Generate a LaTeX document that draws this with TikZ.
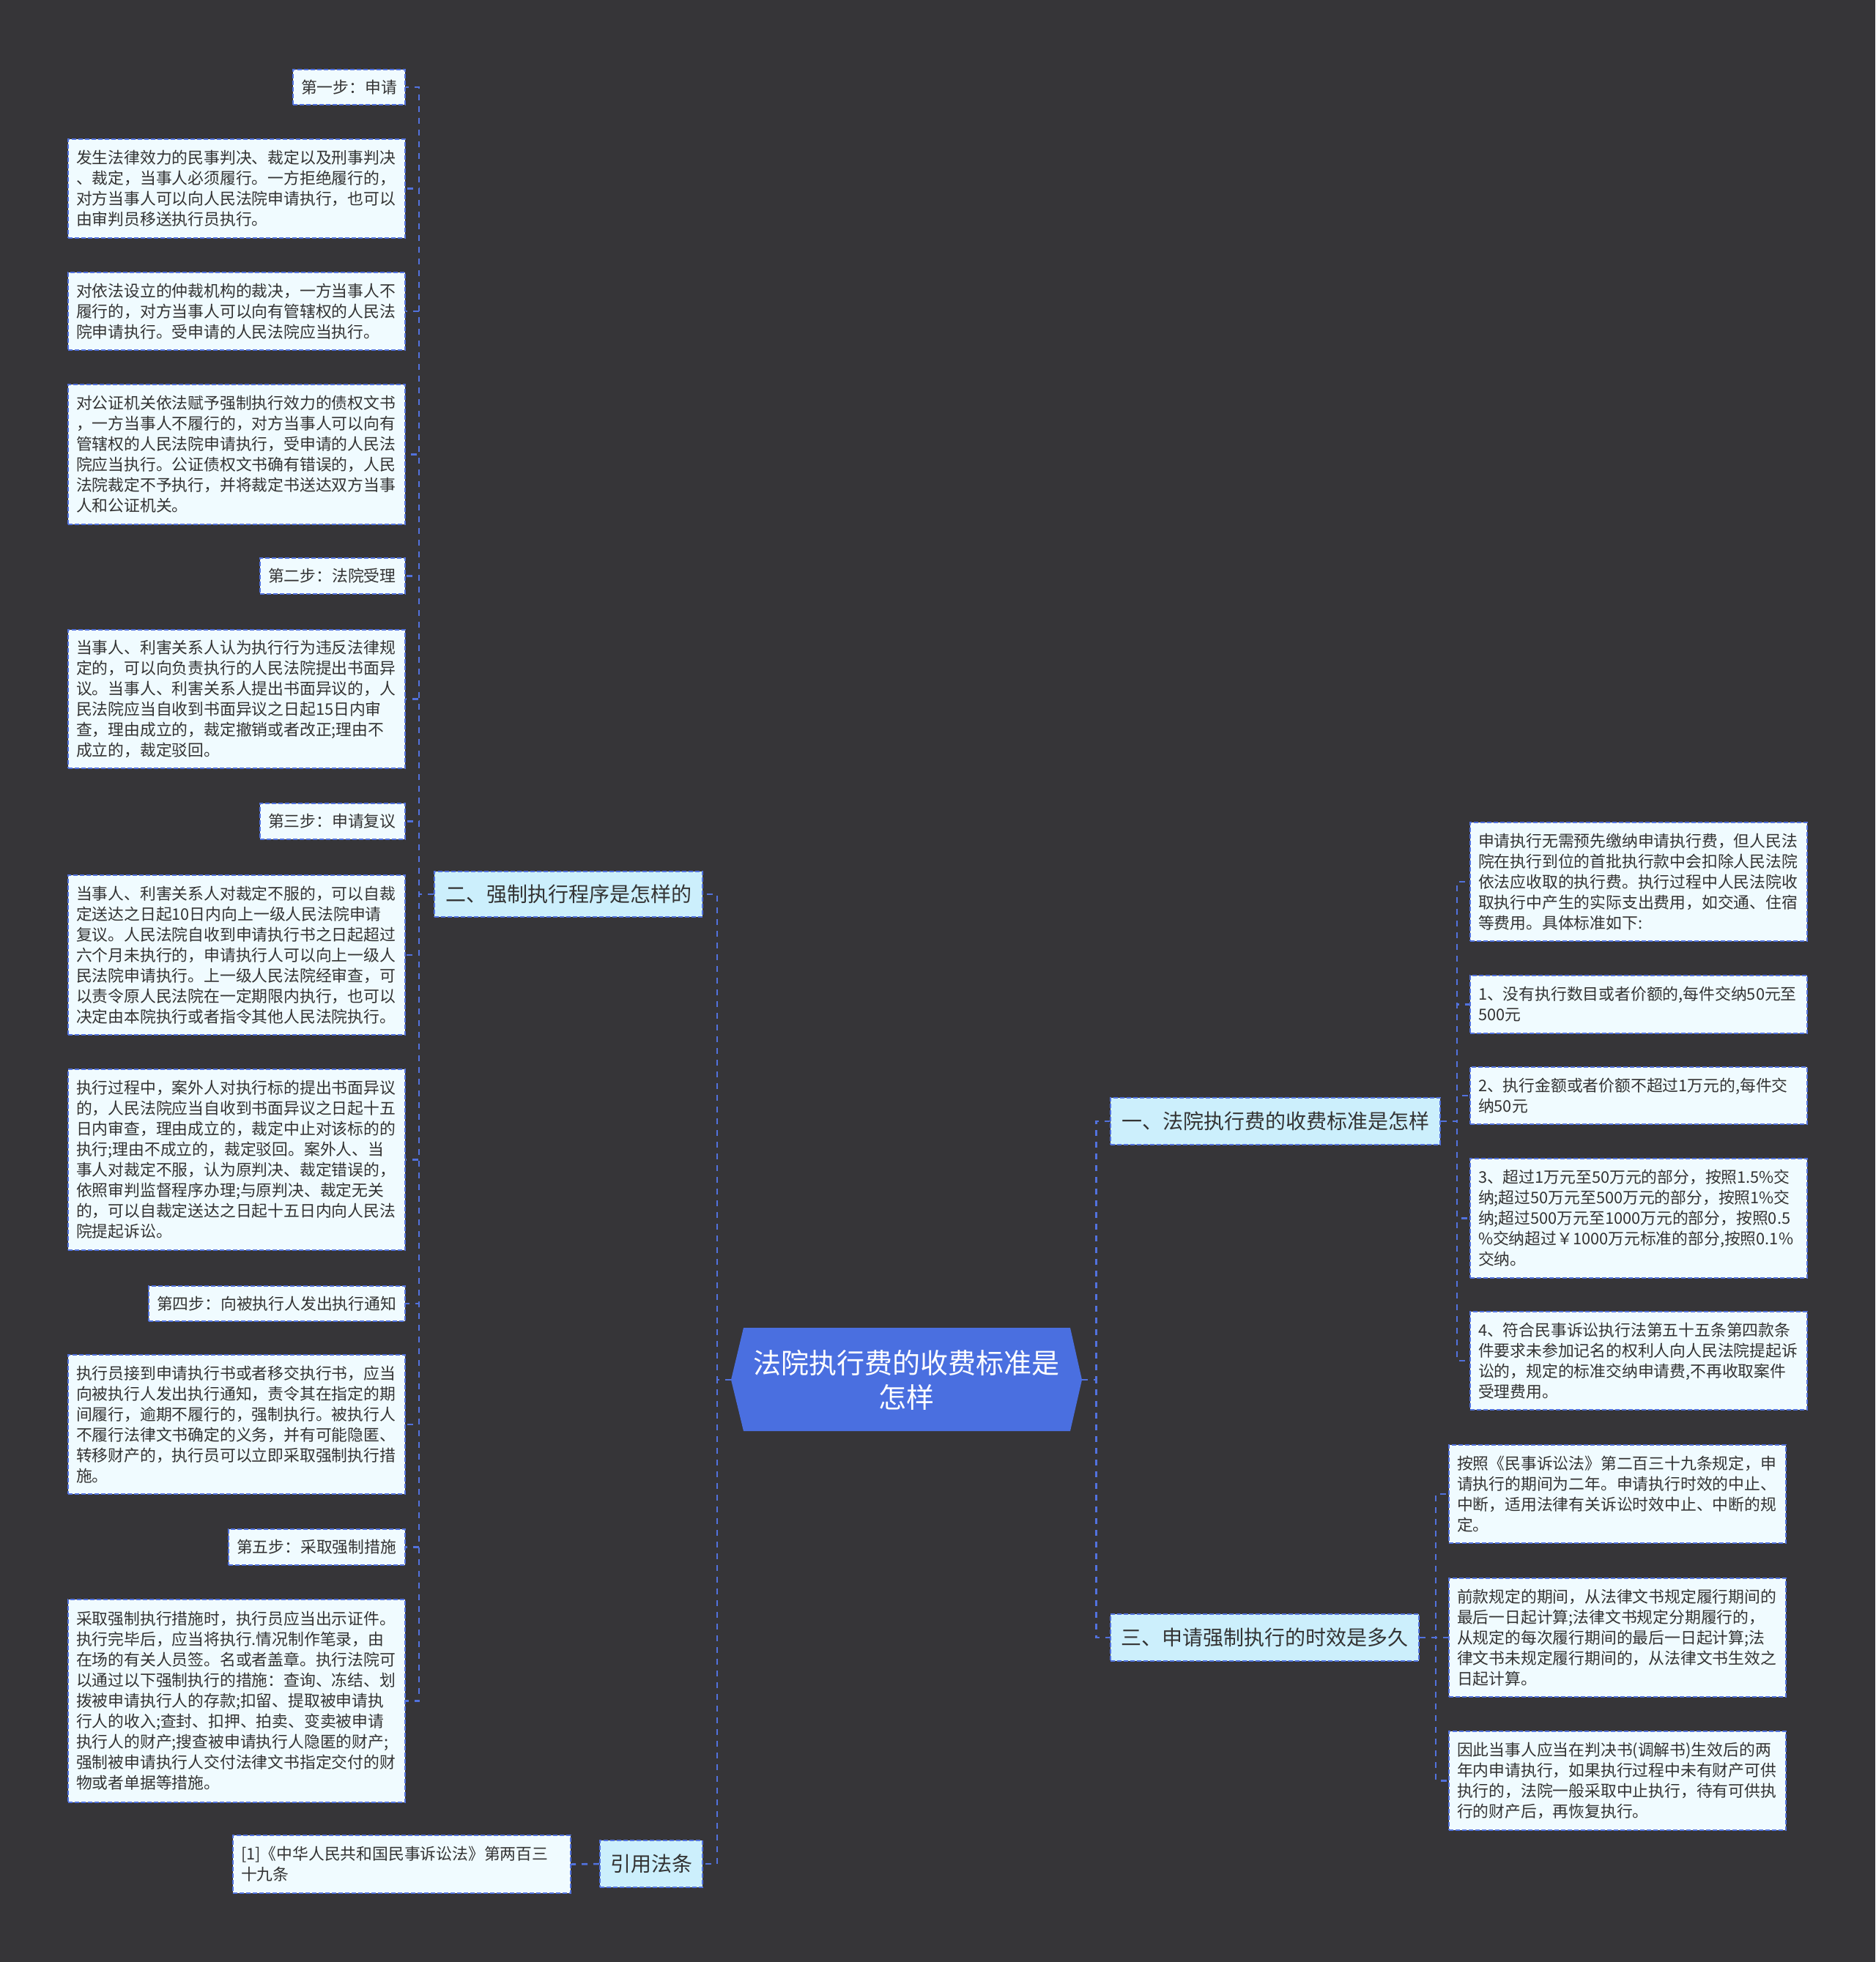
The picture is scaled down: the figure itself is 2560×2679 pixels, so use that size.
\documentclass[tikz,border=0pt]{standalone}
\usepackage{fontspec}
\setmainfont{Noto Sans CJK SC}
\definecolor{bgc}{RGB}{54,53,56}
\definecolor{rootblue}{RGB}{74,111,224}
\definecolor{lineblue}{RGB}{82,114,222}
\definecolor{leaffill}{RGB}{240,251,255}
\definecolor{midfill}{RGB}{204,239,252}
\definecolor{txt}{RGB}{51,51,51}
\tikzset{
  leaf/.style={draw=lineblue, fill=leaffill, line width=2pt, dash pattern=on 6pt off 3pt,
    text=txt, font=\fontsize{21.8}{28}\selectfont, align=left, inner xsep=11pt, inner ysep=0pt},
  mid/.style={draw=lineblue, fill=midfill, line width=2pt, dash pattern=on 6pt off 3pt,
    text=txt, font=\fontsize{28}{34}\selectfont, align=center, inner sep=0pt},
  rootnode/.style={text=white, font=\fontsize{38}{47}\selectfont, align=center, inner sep=0pt,
    minimum width=479pt, minimum height=141pt},
  conn/.style={draw=lineblue, line width=2.6pt, dash pattern=on 8pt off 8pt},
}
\newcommand{\leafbox}[6]{%
  \pgfmathsetmacro{\lbw}{#4-#2}\pgfmathsetmacro{\lbh}{#5-#3}%
  \pgfmathsetmacro{\lbx}{(#2+#4)/2}\pgfmathsetmacro{\lby}{(#3+#5)/2}%
  \pgfmathsetmacro{\ltw}{\lbw-22}%
  \node[leaf, minimum width=\lbw pt, minimum height=\lbh pt, text width=\ltw pt] (#1) at (\lbx,\lby) {#6};}
\newcommand{\midbox}[6]{%
  \pgfmathsetmacro{\lbw}{#4-#2}\pgfmathsetmacro{\lbh}{#5-#3}%
  \pgfmathsetmacro{\lbx}{(#2+#4)/2}\pgfmathsetmacro{\lby}{(#3+#5)/2}%
  \node[mid, minimum width=\lbw pt, minimum height=\lbh pt] (#1) at (\lbx,\lby) {#6};}
\begin{document}
\begin{tikzpicture}[x=1pt,y=-1pt]
\useasboundingbox (0,0) rectangle (2560,2679);
\fill[bgc] (0,0) rectangle (2560,2679);

% root
\fill[rootblue] (1015,1813) -- (1461,1813) -- (1477,1884) -- (1461,1954) -- (1015,1954) -- (998,1884) -- cycle;
\node[rootnode] (root) at (1237.5,1884) {法院执行费的收费标准是\\怎样};

% level 1
\midbox{n2}{593}{1190}{959}{1252}{二、强制执行程序是怎样的}
\midbox{n4}{819}{2513}{959}{2577}{引用法条}
\midbox{n1}{1516}{1499}{1966}{1563}{一、法院执行费的收费标准是怎样}
\midbox{n3}{1516}{2204}{1937}{2268}{三、申请强制执行的时效是多久}

% left leaves
\leafbox{s1}{400}{95}{553}{143}{第一步：申请}
\leafbox{l2}{93}{190}{553}{325}{发生法律效力的民事判决、裁定以及刑事判决\\、裁定，当事人必须履行。一方拒绝履行的，\\对方当事人可以向人民法院申请执行，也可以\\由审判员移送执行员执行。}
\leafbox{l3}{93}{372}{553}{478}{对依法设立的仲裁机构的裁决，一方当事人不\\履行的，对方当事人可以向有管辖权的人民法\\院申请执行。受申请的人民法院应当执行。}
\leafbox{l4}{93}{525}{553}{716}{对公证机关依法赋予强制执行效力的债权文书\\，一方当事人不履行的，对方当事人可以向有\\管辖权的人民法院申请执行，受申请的人民法\\院应当执行。公证债权文书确有错误的，人民\\法院裁定不予执行，并将裁定书送达双方当事\\人和公证机关。}
\leafbox{s2}{355}{762}{553}{811}{第二步：法院受理}
\leafbox{l6}{93}{860}{553}{1049}{当事人、利害关系人认为执行行为违反法律规\\定的，可以向负责执行的人民法院提出书面异\\议。当事人、利害关系人提出书面异议的，人\\民法院应当自收到书面异议之日起15日内审\\查，理由成立的，裁定撤销或者改正;理由不\\成立的，裁定驳回。}
\leafbox{s3}{355}{1097}{553}{1146}{第三步：申请复议}
\leafbox{l8}{93}{1195}{553}{1413}{当事人、利害关系人对裁定不服的，可以自裁\\定送达之日起10日内向上一级人民法院申请\\复议。人民法院自收到申请执行书之日起超过\\六个月未执行的，申请执行人可以向上一级人\\民法院申请执行。上一级人民法院经审查，可\\以责令原人民法院在一定期限内执行，也可以\\决定由本院执行或者指令其他人民法院执行。}
\leafbox{l9}{93}{1460}{553}{1707}{执行过程中，案外人对执行标的提出书面异议\\的，人民法院应当自收到书面异议之日起十五\\日内审查，理由成立的，裁定中止对该标的的\\执行;理由不成立的，裁定驳回。案外人、当\\事人对裁定不服，认为原判决、裁定错误的，\\依照审判监督程序办理;与原判决、裁定无关\\的，可以自裁定送达之日起十五日内向人民法\\院提起诉讼。}
\leafbox{s4}{203}{1756}{553}{1804}{第四步：向被执行人发出执行通知}
\leafbox{l11}{93}{1850}{553}{2040}{执行员接到申请执行书或者移交执行书，应当\\向被执行人发出执行通知，责令其在指定的期\\间履行，逾期不履行的，强制执行。被执行人\\不履行法律文书确定的义务，并有可能隐匿、\\转移财产的，执行员可以立即采取强制执行措\\施。}
\leafbox{s5}{312}{2088}{553}{2137}{第五步：采取强制措施}
\leafbox{l13}{93}{2184}{553}{2461}{采取强制执行措施时，执行员应当出示证件。\\执行完毕后，应当将执行.情况制作笔录，由\\在场的有关人员签。名或者盖章。执行法院可\\以通过以下强制执行的措施：查询、冻结、划\\拨被申请执行人的存款;扣留、提取被申请执\\行人的收入;查封、扣押、拍卖、变卖被申请\\执行人的财产;搜查被申请执行人隐匿的财产;\\强制被申请执行人交付法律文书指定交付的财\\物或者单据等措施。}
\leafbox{r1}{318}{2506}{779}{2585}{[1]《中华人民共和国民事诉讼法》第两百三\\十九条}

% right leaves of n1
\leafbox{a1}{2007}{1123}{2467}{1285}{申请执行无需预先缴纳申请执行费，但人民法\\院在执行到位的首批执行款中会扣除人民法院\\依法应收取的执行费。执行过程中人民法院收\\取执行中产生的实际支出费用，如交通、住宿\\等费用。具体标准如下:}
\leafbox{a2}{2007}{1332}{2467}{1411}{1、没有执行数目或者价额的,每件交纳50元至\\500元}
\leafbox{a3}{2007}{1457}{2467}{1535}{2、执行金额或者价额不超过1万元的,每件交\\纳50元}
\leafbox{a4}{2007}{1582}{2467}{1745}{3、超过1万元至50万元的部分，按照1.5\%交\\纳;超过50万元至500万元的部分，按照1\%交\\纳;超过500万元至1000万元的部分，按照0.5\\\%交纳超过￥1000万元标准的部分,按照0.1\%\\交纳。}
\leafbox{a5}{2007}{1791}{2467}{1925}{4、符合民事诉讼执行法第五十五条第四款条\\件要求未参加记名的权利人向人民法院提起诉\\讼的，规定的标准交纳申请费,不再收取案件\\受理费用。}

% right leaves of n3
\leafbox{b1}{1978}{1973}{2438}{2107}{按照《民事诉讼法》第二百三十九条规定，申\\请执行的期间为二年。申请执行时效的中止、\\中断，适用法律有关诉讼时效中止、中断的规\\定。}
\leafbox{b2}{1978}{2155}{2438}{2317}{前款规定的期间，从法律文书规定履行期间的\\最后一日起计算;法律文书规定分期履行的，\\从规定的每次履行期间的最后一日起计算;法\\律文书未规定履行期间的，从法律文书生效之\\日起计算。}
\leafbox{b3}{1978}{2364}{2438}{2499}{因此当事人应当在判决书(调解书)生效后的两\\年内申请执行，如果执行过程中未有财产可供\\执行的，法院一般采取中止执行，待有可供执\\行的财产后，再恢复执行。}

% connectors: root
\foreach \c in {n2,n4} \draw[conn] (root.west) -- ++(-19,0) |- (\c.east);
\foreach \c in {n1,n3} \draw[conn] (root.east) -- ++(19,0) |- (\c.west);
% n2 children
\foreach \c in {s1,l2,l3,l4,s2,l6,s3,l8,l9,s4,l11,s5,l13} \draw[conn] (n2.west) -- ++(-20,0) |- (\c.east);
% n4 child
\draw[conn] (n4.west) -- (r1.east);
% n1 children
\foreach \c in {a1,a2,a3,a4,a5} \draw[conn] (n1.east) -- ++(22,0) |- (\c.west);
% n3 children
\foreach \c in {b1,b2,b3} \draw[conn] (n3.east) -- ++(22,0) |- (\c.west);
\end{tikzpicture}
\end{document}
